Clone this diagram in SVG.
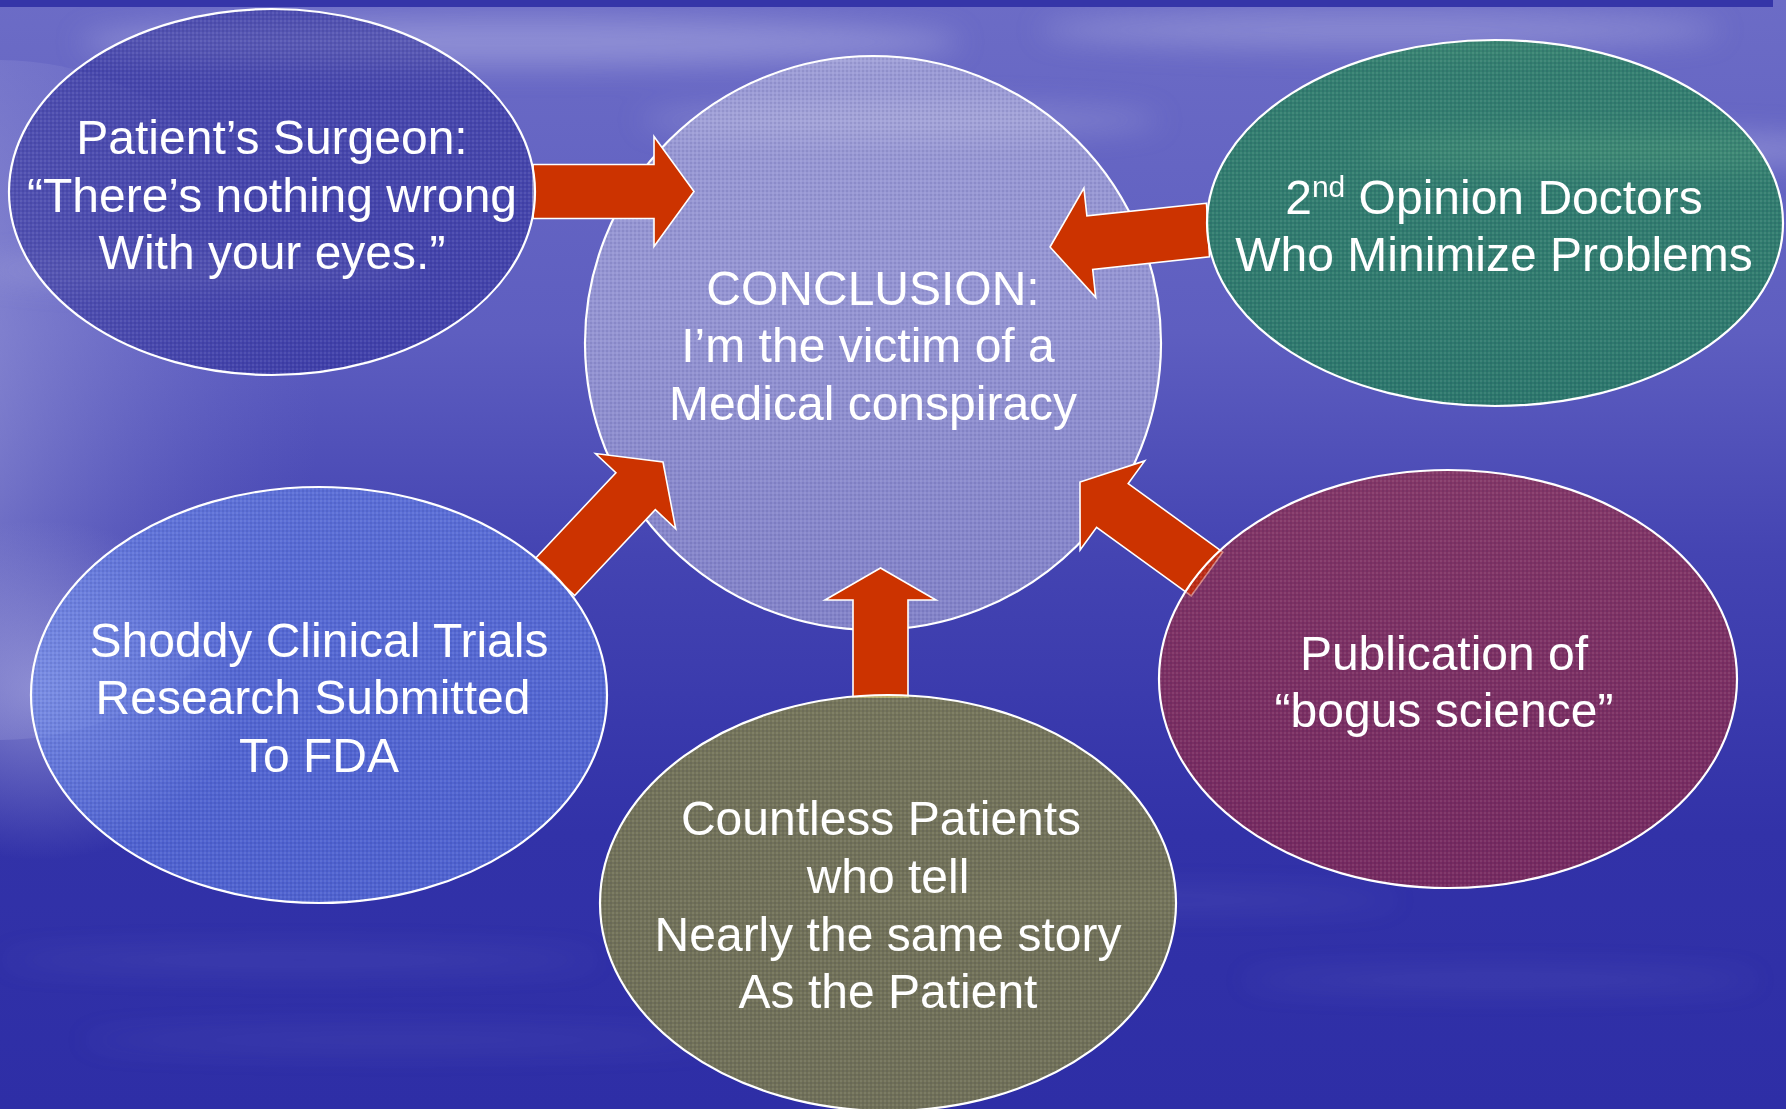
<svg xmlns="http://www.w3.org/2000/svg" width="1786" height="1109" viewBox="0 0 1786 1109">
<defs>
<linearGradient id="bg" x1="0" y1="0" x2="0" y2="1">
<stop offset="0" stop-color="#6C6CC6"/>
<stop offset="0.3" stop-color="#5E5EC0"/>
<stop offset="0.5" stop-color="#4444B2"/>
<stop offset="0.75" stop-color="#3232A8"/>
<stop offset="1" stop-color="#2E2EA6"/>
</linearGradient>
<radialGradient id="glowL" cx="0" cy="0.5" r="1">
<stop offset="0" stop-color="#F0F0FA" stop-opacity="0.95"/>
<stop offset="0.35" stop-color="#C8C8EC" stop-opacity="0.5"/>
<stop offset="1" stop-color="#8080D0" stop-opacity="0"/>
</radialGradient>
<radialGradient id="cloud" cx="0.5" cy="0.5" r="0.5">
<stop offset="0" stop-color="#C8C8EE" stop-opacity="0.5"/>
<stop offset="1" stop-color="#C8C8EE" stop-opacity="0"/>
</radialGradient>
<filter id="blur" x="-20%" y="-100%" width="140%" height="300%"><feGaussianBlur stdDeviation="14"/></filter>
<pattern id="dots" width="4" height="4" patternUnits="userSpaceOnUse">
<rect x="0" y="0" width="2" height="2" fill="#FFFFFF" fill-opacity="0.08"/>
<rect x="2" y="2" width="2" height="2" fill="#000040" fill-opacity="0.08"/>
</pattern>
</defs>
<style>
.node ellipse.shape{stroke:#FFFFFF;stroke-width:2.2}
.node ellipse.tex{fill:url(#dots);stroke:none}
.lbl{font-family:"Liberation Sans",Arial,Helvetica,sans-serif;font-size:48px;fill:#FFFFFF;text-anchor:middle}
.arrow{fill:#CC3300;stroke:#FFFFFF;stroke-width:1.6;stroke-linejoin:miter}
</style>

<!-- background -->
<rect x="0" y="0" width="1786" height="1109" fill="url(#bg)"/>
<ellipse cx="0" cy="400" rx="320" ry="340" fill="url(#glowL)"/>
<ellipse cx="40" cy="690" rx="200" ry="170" fill="url(#cloud)"/>
<g filter="url(#blur)" fill="#B8B8E6">
<ellipse cx="520" cy="42" rx="440" ry="24" opacity="0.45"/>
<ellipse cx="1380" cy="30" rx="340" ry="18" opacity="0.4"/>
<ellipse cx="1620" cy="150" rx="260" ry="18" opacity="0.4"/>
<ellipse cx="900" cy="120" rx="260" ry="16" opacity="0.3"/>
<ellipse cx="200" cy="270" rx="220" ry="16" opacity="0.3"/>
<ellipse cx="1100" cy="900" rx="300" ry="10" opacity="0.12"/>
<ellipse cx="300" cy="960" rx="300" ry="10" opacity="0.12"/>
<ellipse cx="1500" cy="980" rx="260" ry="10" opacity="0.12"/>
<ellipse cx="400" cy="1040" rx="320" ry="10" opacity="0.1"/>
</g>
<rect x="0" y="0" width="1773" height="7" fill="#3535A8"/>

<!-- center node -->
<g id="node-conclusion" class="node">
<ellipse class="shape" cx="873" cy="343" rx="288" ry="287" fill="#D8D8E8" fill-opacity="0.45"/>
<ellipse class="tex" cx="873" cy="343" rx="287" ry="286"/>
<text class="lbl"><tspan x="873" y="305">CONCLUSION:</tspan><tspan x="868" y="362">I’m the victim of a</tspan><tspan x="873" y="420">Medical conspiracy</tspan></text>
</g>

<!-- connectors -->
<g id="connectors">
<polygon id="arrow-surgeon" class="arrow" points="533,218.5 654,218.5 654,246.5 694,191.5 654,136.5 654,164.5 533,164.5"/>
<polygon id="arrow-opinion" class="arrow" points="1206.5,203.2 1086.9,215.9 1083.9,188 1050,247 1095.7,297.4 1092.7,269.5 1209.5,256.8"/>
<polygon id="arrow-trials" class="arrow" points="574.7,595.5 655.3,509.6 675.7,528.8 663,462 595.5,453.5 615.9,472.7 535.3,558.5"/>
<polygon id="arrow-publication" class="arrow" points="1222.8,552.1 1128.2,483.6 1144.7,460.9 1080,482 1080.1,550 1096.6,527.3 1191.2,595.9"/>
<polygon id="arrow-patients" class="arrow" points="908,697 908,600 936,600 880.5,568 825,600 853,600 853,697"/>
</g>

<!-- outer nodes -->
<g id="node-surgeon" class="node">
<ellipse class="shape" cx="272" cy="192" rx="263" ry="183" fill="#282896" fill-opacity="0.5"/>
<ellipse class="tex" cx="272" cy="192" rx="262" ry="182"/>
<text class="lbl"><tspan x="272" y="154">Patient’s Surgeon:</tspan><tspan x="272" y="212">“There’s nothing wrong</tspan><tspan x="272" y="269">With your eyes.”</tspan></text>
</g>

<g id="node-opinion" class="node">
<ellipse class="shape" cx="1495" cy="223" rx="288" ry="183" fill="#148C3C" fill-opacity="0.62"/>
<ellipse class="tex" cx="1495" cy="223" rx="287" ry="182"/>
<text class="lbl" x="1494" y="214">2<tspan font-size="30" dy="-17">nd</tspan><tspan dy="17"> Opinion Doctors</tspan></text>
<text class="lbl" x="1494" y="271">Who Minimize Problems</text>
</g>

<g id="node-trials" class="node">
<ellipse class="shape" cx="319" cy="695" rx="288" ry="208" fill="#6A8CF0" fill-opacity="0.55"/>
<ellipse class="tex" cx="319" cy="695" rx="287" ry="207"/>
<text class="lbl"><tspan x="319" y="657">Shoddy Clinical Trials</tspan><tspan x="313" y="714">Research Submitted</tspan><tspan x="319" y="772">To FDA</tspan></text>
</g>

<g id="node-publication" class="node">
<ellipse class="shape" cx="1448" cy="679" rx="289" ry="209" fill="#B02626" fill-opacity="0.55"/>
<ellipse class="tex" cx="1448" cy="679" rx="288" ry="208"/>
<text class="lbl"><tspan x="1444" y="670">Publication of</tspan><tspan x="1444" y="727">“bogus science”</tspan></text>
</g>

<g id="node-patients" class="node">
<ellipse class="shape" cx="888" cy="903" rx="288" ry="208" fill="#9A9A28" fill-opacity="0.62"/>
<ellipse class="tex" cx="888" cy="903" rx="287" ry="207"/>
<text class="lbl"><tspan x="881" y="835">Countless Patients</tspan><tspan x="888" y="893">who tell</tspan><tspan x="888" y="951">Nearly the same story</tspan><tspan x="888" y="1008">As the Patient</tspan></text>
</g>
</svg>
